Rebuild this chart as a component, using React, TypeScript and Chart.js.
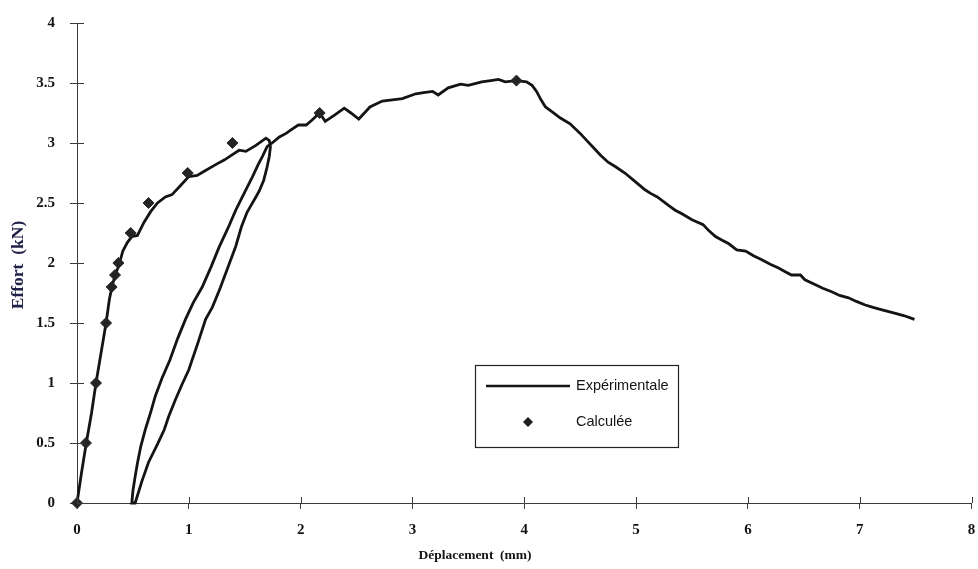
import { useEffect, useRef } from "react";
import { Chart, registerables } from "chart.js";

Chart.register(...registerables);

// Experimental force–displacement curve, split into its loading phases [mm, kN]
const firstLoading: [number, number][] = [
  [0, 0], [0.04, 0.25], [0.083, 0.5], [0.13, 0.75], [0.17, 1.0], [0.215, 1.25], [0.26, 1.5],
  [0.29, 1.7], [0.32, 1.83], [0.35, 1.92], [0.375, 1.98], [0.41, 2.1], [0.45, 2.17], [0.49, 2.22],
  [0.54, 2.23], [0.6, 2.34], [0.66, 2.43], [0.72, 2.5], [0.79, 2.55], [0.85, 2.57], [0.92, 2.64],
  [1.0, 2.72], [1.075, 2.73], [1.13, 2.76], [1.24, 2.82], [1.32, 2.86], [1.4, 2.91], [1.45, 2.94],
  [1.51, 2.93], [1.6, 2.98], [1.69, 3.04], [1.72, 3.02],
];

const unloading: [number, number][] = [
  [1.73, 2.97], [1.72, 2.89], [1.7, 2.8], [1.67, 2.69], [1.63, 2.6], [1.6, 2.55], [1.55, 2.47],
  [1.52, 2.42], [1.47, 2.3], [1.42, 2.14], [1.36, 1.99], [1.28, 1.79], [1.21, 1.63], [1.15, 1.53],
  [1.08, 1.33], [1.0, 1.11], [0.94, 0.99], [0.88, 0.86], [0.82, 0.72], [0.78, 0.61], [0.72, 0.49],
  [0.64, 0.34], [0.58, 0.18], [0.52, 0.0], [0.49, 0.0],
];

const reloading: [number, number][] = [
  [0.5, 0.1], [0.52, 0.22], [0.54, 0.33], [0.57, 0.47], [0.61, 0.61], [0.66, 0.76], [0.7, 0.89],
  [0.76, 1.04], [0.83, 1.19], [0.9, 1.37], [0.97, 1.53], [1.04, 1.67], [1.12, 1.8], [1.2, 1.97],
  [1.27, 2.13], [1.35, 2.29], [1.42, 2.44], [1.5, 2.59], [1.57, 2.72], [1.62, 2.82], [1.66, 2.89],
  [1.7, 2.97], [1.745, 3.0],
];

const postPeak: [number, number][] = [
  [1.81, 3.05], [1.87, 3.08], [1.93, 3.12], [1.98, 3.15], [2.05, 3.15], [2.1, 3.19], [2.17, 3.25],
  [2.22, 3.18], [2.3, 3.23], [2.39, 3.29], [2.45, 3.25], [2.52, 3.2], [2.57, 3.25], [2.62, 3.3],
  [2.73, 3.35], [2.82, 3.36], [2.91, 3.37], [3.03, 3.41], [3.1, 3.42], [3.18, 3.43], [3.23, 3.4],
  [3.32, 3.46], [3.43, 3.49], [3.5, 3.48], [3.62, 3.51], [3.7, 3.52], [3.77, 3.53], [3.83, 3.51],
  [3.93, 3.52], [4.02, 3.51], [4.07, 3.48], [4.11, 3.43], [4.15, 3.36], [4.19, 3.3], [4.25, 3.26],
  [4.32, 3.21], [4.41, 3.16], [4.5, 3.08], [4.56, 3.02], [4.62, 2.96], [4.68, 2.9], [4.75, 2.84],
  [4.82, 2.8], [4.9, 2.75], [4.99, 2.68], [5.08, 2.61], [5.13, 2.58], [5.19, 2.55], [5.29, 2.48],
  [5.35, 2.44], [5.41, 2.41], [5.5, 2.36], [5.6, 2.32], [5.65, 2.27], [5.71, 2.22], [5.77, 2.19],
  [5.83, 2.16], [5.9, 2.11], [5.98, 2.1], [6.05, 2.06], [6.12, 2.03], [6.2, 1.99], [6.27, 1.96],
  [6.33, 1.93], [6.39, 1.9], [6.47, 1.9], [6.51, 1.86], [6.6, 1.82], [6.67, 1.79], [6.75, 1.76],
  [6.82, 1.73], [6.9, 1.71], [6.97, 1.68], [7.05, 1.65], [7.12, 1.63], [7.2, 1.61], [7.32, 1.58],
  [7.4, 1.56], [7.49, 1.53],
];

// Computed model points
const calculatedDisplacement = [0, 0.08, 0.17, 0.26, 0.31, 0.34, 0.37, 0.48, 0.64, 0.99, 1.39, 2.17, 3.93];
const calculatedForce = [0, 0.5, 1, 1.5, 1.8, 1.9, 2.0, 2.25, 2.5, 2.75, 3.0, 3.25, 3.52];

// Axis ranges and steps
const xRange = [0, 8];
const xStep = 1;
const yRange = [0, 4];
const yStep = 0.5;

const seriesLabels = ["Expérimentale", "Calculée"];
const xTitle = "Déplacement  (mm)";
const yTitle = "Effort  (kN)";

const SERIF = "'Liberation Serif', 'Times New Roman', serif";
const SANS = "'Liberation Sans', Arial, sans-serif";
const INK = "#141414";
const AXIS = "#3a3a3a";

// Short tick marks on the inner side of both axes, plus the two axis titles
const axisDecor = {
  id: "axisDecor",
  afterDraw(chart: any) {
    const { ctx, chartArea } = chart;
    const xs = chart.scales.x;
    const ys = chart.scales.y;
    ctx.save();
    ctx.strokeStyle = AXIS;
    ctx.lineWidth = 1;
    ctx.beginPath();
    xs.ticks.forEach((t: any) => {
      const px = Math.round(xs.getPixelForValue(t.value)) + 0.5;
      ctx.moveTo(px, chartArea.bottom);
      ctx.lineTo(px, chartArea.bottom - 6);
    });
    ys.ticks.forEach((t: any) => {
      const py = Math.round(ys.getPixelForValue(t.value)) + 0.5;
      ctx.moveTo(chartArea.left, py);
      ctx.lineTo(chartArea.left + 7, py);
    });
    ctx.stroke();

    ctx.fillStyle = INK;
    ctx.font = `bold 13.5px ${SERIF}`;
    ctx.textAlign = "center";
    ctx.textBaseline = "middle";
    ctx.fillText(xTitle, 475, 556);

    ctx.save();
    ctx.translate(18, 265);
    ctx.rotate(-Math.PI / 2);
    ctx.fillStyle = "#22224a";
    ctx.font = `bold 17.5px ${SERIF}`;
    ctx.fillText(yTitle, 0, 0);
    ctx.restore();
    ctx.restore();
  },
};

// Boxed legend sitting inside the plot area
const boxedLegend = {
  id: "boxedLegend",
  afterDraw(chart: any) {
    const { ctx } = chart;
    const left = 475;
    const top = 365;
    const w = 203;
    const h = 82;
    ctx.save();
    ctx.fillStyle = "#ffffff";
    ctx.fillRect(left, top, w, h);
    ctx.strokeStyle = "#222";
    ctx.lineWidth = 1.2;
    ctx.strokeRect(left + 0.5, top + 0.5, w, h);

    ctx.strokeStyle = INK;
    ctx.lineWidth = 2.6;
    ctx.beginPath();
    ctx.moveTo(left + 11, top + 21);
    ctx.lineTo(left + 95, top + 21);
    ctx.stroke();

    const cx = left + 53;
    const cy = top + 57;
    ctx.fillStyle = "#1e1e1e";
    ctx.beginPath();
    ctx.moveTo(cx, cy - 5);
    ctx.lineTo(cx + 5, cy);
    ctx.lineTo(cx, cy + 5);
    ctx.lineTo(cx - 5, cy);
    ctx.closePath();
    ctx.fill();

    ctx.fillStyle = INK;
    ctx.font = `14.5px ${SANS}`;
    ctx.textAlign = "left";
    ctx.textBaseline = "middle";
    ctx.fillText(seriesLabels[0], left + 101, top + 21);
    ctx.fillText(seriesLabels[1], left + 101, top + 57);
    ctx.restore();
  },
};

export default function App() {
  const canvasRef = useRef<HTMLCanvasElement | null>(null);

  useEffect(() => {
    if (!canvasRef.current) return;
    const experimental = [...firstLoading, ...unloading, ...reloading, ...postPeak].map(([x, y]) => ({ x, y }));
    const calculated = calculatedDisplacement.map((x, i) => ({ x, y: calculatedForce[i] }));

    const chart = new Chart(canvasRef.current, {
      type: "scatter",
      data: {
        datasets: [
          {
            label: seriesLabels[0],
            data: experimental,
            showLine: true,
            borderColor: INK,
            borderWidth: 2.8,
            pointRadius: 0,
            tension: 0,
            clip: false,
            order: 2,
          },
          {
            label: seriesLabels[1],
            data: calculated,
            showLine: false,
            pointStyle: "rectRot",
            pointRadius: 5.5,
            backgroundColor: "#242424",
            borderColor: "#242424",
            borderWidth: 1,
            clip: false,
            order: 1,
          },
        ],
      },
      options: {
        responsive: false,
        animation: false,
        layout: { padding: { top: 23, right: 4, bottom: 0, left: 0 } },
        plugins: {
          legend: { display: false },
          tooltip: { enabled: false },
          title: { display: false },
        },
        scales: {
          x: {
            type: "linear",
            min: xRange[0],
            max: xRange[1],
            afterFit: (s: any) => {
              s.height = 66;
              s.paddingLeft = 0;
              s.paddingRight = 0;
            },
            ticks: {
              stepSize: xStep,
              color: INK,
              font: { family: SERIF, size: 15, weight: "bold" },
              padding: 12,
              maxRotation: 0,
              callback: (v: any) => `${v}`,
            },
            grid: { drawOnChartArea: false, drawTicks: true, tickLength: 6, color: AXIS, lineWidth: 1 },
            border: { display: true, color: AXIS, width: 1 },
          },
          y: {
            type: "linear",
            min: yRange[0],
            max: yRange[1],
            afterFit: (s: any) => {
              s.width = 77;
              s.paddingTop = 0;
              s.paddingBottom = 0;
            },
            ticks: {
              stepSize: yStep,
              color: INK,
              font: { family: SERIF, size: 15, weight: "bold" },
              padding: 15,
              callback: (v: any) => `${v}`,
            },
            grid: { drawOnChartArea: false, drawTicks: true, tickLength: 7, color: AXIS, lineWidth: 1 },
            border: { display: true, color: AXIS, width: 1 },
          },
        },
      },
      plugins: [axisDecor, boxedLegend],
    });

    return () => chart.destroy();
  }, []);

  return (
    <div style={{ position: "fixed", left: 0, top: 0, width: 978, height: 569, background: "#ffffff" }}>
      <canvas ref={canvasRef} width={978} height={569} style={{ display: "block" }} />
    </div>
  );
}
